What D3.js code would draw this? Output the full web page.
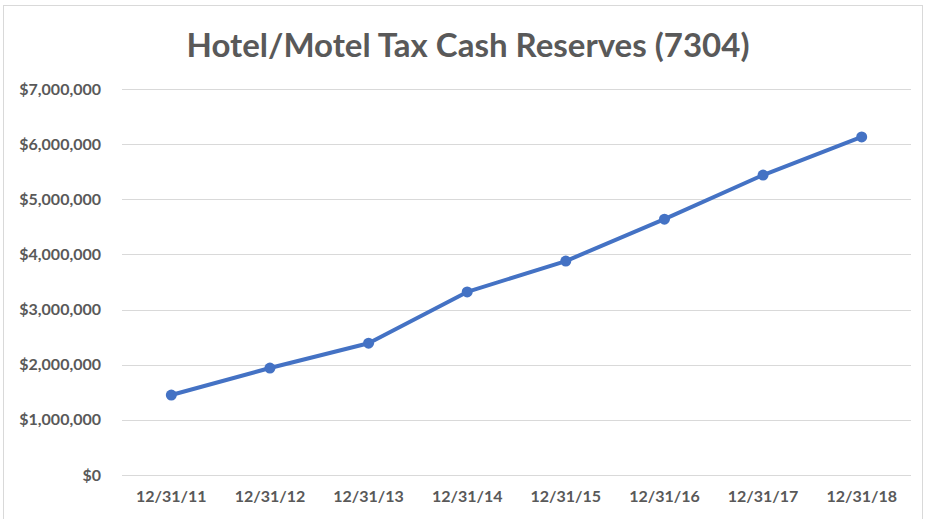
<!DOCTYPE html>
<meta charset="utf-8">
<title>Hotel/Motel Tax Cash Reserves (7304)</title>
<style>
    body { margin: 0; background: #fff; }
    text { font-family: Lato, "Open Sans", Arial; fill: #595959; font-weight: bold; }
</style>
<body>
<script src="https://d3js.org/d3.v7.min.js"></script>
<script>
    /* Year-end cash reserves */
    var dates = ["12/31/11", "12/31/12", "12/31/13", "12/31/14", "12/31/15", "12/31/16", "12/31/17", "12/31/18"];
    var reserves = [1450000, 1940000, 2390000, 3320000, 3880000, 4640000, 5440000, 6130000];
    var yTicks = [0, 1000000, 2000000, 3000000, 4000000, 5000000, 6000000, 7000000];

    var width = 927, height = 519;
    var plotLeft = 122, plotRight = 911, plotTop = 89, plotBottom = 475;

    var svg = d3.select("body").append("svg")
        .attr("width", width)
        .attr("height", height);

    // chart frame
    svg.append("rect")
        .attr("x", 3.5).attr("y", 5.5)
        .attr("width", 919).attr("height", 520)
        .attr("fill", "none")
        .attr("stroke", "#d9d9d9");

    var x = d3.scaleBand().domain(dates).range([plotLeft, plotRight]);
    var y = d3.scaleLinear().domain([0, 7000000]).range([plotBottom, plotTop]);

    // gridlines
    svg.append("g")
        .selectAll("line")
        .data(yTicks)
        .enter().append("line")
        .attr("x1", plotLeft).attr("x2", plotRight)
        .attr("y1", d => Math.round(y(d)) + 0.5).attr("y2", d => Math.round(y(d)) + 0.5)
        .attr("stroke", "#d9d9d9")
        .attr("stroke-width", 1);

    var yAxis = d3.axisLeft(y)
        .tickValues(yTicks)
        .tickSize(0)
        .tickPadding(21)
        .tickFormat(d => "$" + d3.format(",")(d));
    svg.append("g")
        .attr("transform", "translate(" + plotLeft + ",0)")
        .call(yAxis)
        .call(g => g.select(".domain").remove())
        .selectAll("text")
        .attr("font-size", 16)
        .attr("font-family", null);

    var xAxis = d3.axisBottom(x).tickSize(0).tickPadding(16);
    svg.append("g")
        .attr("transform", "translate(0," + plotBottom + ")")
        .call(xAxis)
        .call(g => g.select(".domain").remove())
        .selectAll("text")
        .attr("font-size", 16)
        .attr("font-family", null);

    var line = d3.line()
        .x((d, i) => x(dates[i]) + x.bandwidth() / 2)
        .y(d => y(d));

    svg.append("path")
        .datum(reserves)
        .attr("d", line)
        .attr("fill", "none")
        .attr("stroke", "#4472c4")
        .attr("stroke-width", 4)
        .attr("stroke-linejoin", "round");

    svg.append("g")
        .selectAll("circle")
        .data(reserves)
        .enter().append("circle")
        .attr("cx", (d, i) => x(dates[i]) + x.bandwidth() / 2)
        .attr("cy", d => y(d))
        .attr("r", 5.5)
        .attr("fill", "#4472c4");

    svg.append("text")
        .attr("x", 468)
        .attr("y", 57)
        .attr("text-anchor", "middle")
        .attr("font-size", 33)
        .text("Hotel/Motel Tax Cash Reserves (7304)");
</script>
</body>
